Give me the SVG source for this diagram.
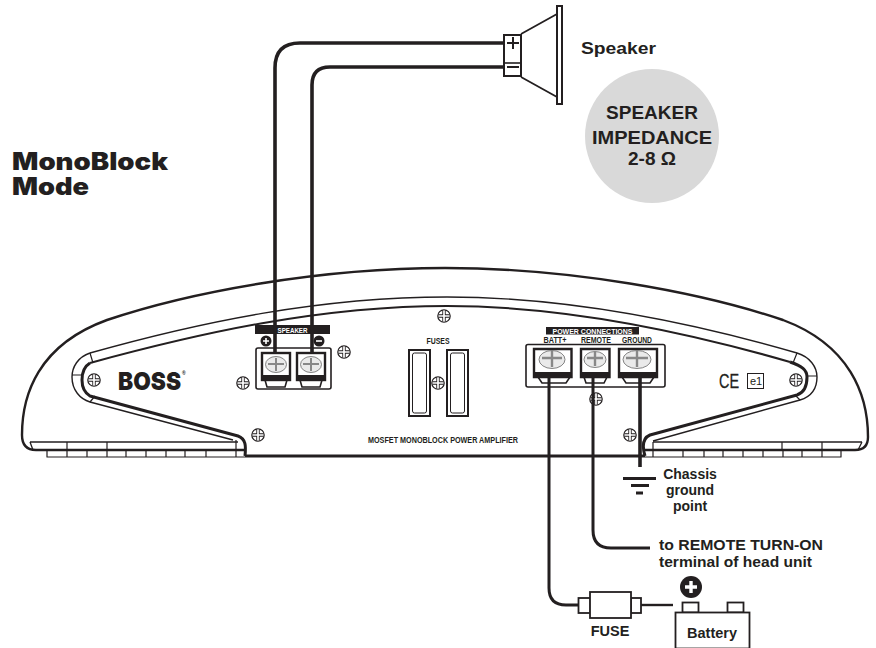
<svg xmlns="http://www.w3.org/2000/svg" xmlns:xlink="http://www.w3.org/1999/xlink" width="876" height="648" viewBox="0 0 876 648">
<style>
.l{fill:none;stroke:#231f20;stroke-linejoin:round;stroke-linecap:butt}
.w{fill:none;stroke:#231f20;stroke-width:3.6;stroke-linejoin:round}
.t{font-family:"Liberation Sans",Arial,sans-serif;font-weight:700;fill:#231f20}
.s{font-family:"Liberation Sans",Arial,sans-serif;font-weight:700;fill:#231f20;font-size:9px}
.b{fill:#231f20}
.box{fill:#fff;stroke:#231f20;stroke-width:1.6}
</style>
<defs>
<g id="screw"><circle r="6.2" fill="#fff" stroke="#231f20" stroke-width="1.2"/><path d="M-5.6,0H5.6M0,-5.6V5.6" stroke="#231f20" stroke-width="3.4"/><path d="M-5.4,0H5.4M0,-5.4V5.4" stroke="#fff" stroke-width="1.7"/></g>
</defs>

<g id="title"><text x="12" y="170" font-family="Inter,'Liberation Sans',sans-serif" font-weight="900" font-size="24" fill="#231f20" textLength="156" lengthAdjust="spacingAndGlyphs">MonoBlock</text>
<text x="12" y="195" font-family="Inter,'Liberation Sans',sans-serif" font-weight="900" font-size="24" fill="#231f20" textLength="77" lengthAdjust="spacingAndGlyphs">Mode</text></g>

<g id="speaker">
<path class="l" stroke-width="1.8" d="M521,34 L557,14 M521,77 L557,97"/>
<rect x="557" y="6" width="5" height="98" fill="#fff" stroke="#231f20" stroke-width="2"/>
<rect x="504" y="35" width="17" height="41" fill="#fff" stroke="#231f20" stroke-width="2"/>
<path class="l" stroke-width="1.6" d="M504,63H521"/>
<path class="l" stroke-width="2" d="M507,43H519M513,37V49"/>
<path class="l" stroke-width="2" d="M507,67H519"/>
<text class="t" x="581" y="54" font-size="17" textLength="75" lengthAdjust="spacingAndGlyphs">Speaker</text>
</g>

<g id="impedance">
<circle cx="652" cy="136" r="67" fill="#d9d9d9"/>
<text class="t" x="652" y="119" font-size="19" text-anchor="middle">SPEAKER</text>
<text class="t" x="652" y="144" font-size="19" text-anchor="middle" textLength="120" lengthAdjust="spacingAndGlyphs">IMPEDANCE</text>
<text class="t" x="652" y="165" font-size="19" text-anchor="middle">2-8 Ω</text>
</g>

<g id="amplifier">
<path d="M245,456 V450 H36 Q22,450 22,435 C22,395 38,345 107,320 C190,292 320,268 445,268 C570,268 700,292 783,320 C850,345 868,395 868,437 Q868,450 855,450 H645 V456 Z" fill="#fff"/>
<path class="l" stroke-width="2.4" d="M245,450 H36 Q22,450 22,435 C22,395 38,345 107,320 C190,292 320,268 445,268 C570,268 700,292 783,320 C850,345 868,395 868,437 Q868,450 855,450 H645"/>
<path class="l" stroke-width="1.3" d="M30,442 H238 M653,442 H862 M30,442 L33,450 M862,442 L858,450"/>
<path class="l" stroke-width="1.2" d="M47,450 V457 H245 M67,442 V450 M107,442 V450 M67,450 V457 M87,450 V457 M107,450 V457 M126,450 V457 M146,450 V457 M166,450 V457 M185,450 V457 M206,450 V457 M236,440 V457"/>
<path class="l" stroke-width="1.2" d="M841,450 V457 H645 M782,442 V450 M822,442 V450 M653,442 V457 M683,450 V457 M704,450 V457 M723,450 V457 M743,450 V457 M763,450 V457 M783,450 V457 M802,450 V457 M822,450 V457"/>
<path class="l" stroke-width="1.4" d="M90,353 C200,322 320,297 447,297 C570,297 690,322 797,353 C810,357 817,367 817,377 C817,390 810,397 800,400 L653,441"/>
<path class="l" stroke-width="1.4" d="M90,353 C78,357 72,367 72,377 C72,390 80,399 90,402 L233,440"/>
<path class="l" stroke-width="2" d="M90,363 C200,333 320,306 447,306 C570,306 690,333 790,362"/>
<path class="l" stroke-width="3" d="M90,363 C85,366 82,372 82,380 C82,388 85,393 90,396 L238,436 C246,439 246,446 245,456"/>
<path class="l" stroke-width="3" d="M790,362 C802,366 807,370 807,377 C807,388 803,393 797,395 L650,435 C643,438 642,446 645,456"/>
<path class="l" stroke-width="1.2" d="M90,353 L93,363 M72,375 H82 M90,402 L95,396 M797,353 L793,363 M807,376 H817 M800,400 L795,395"/>
<path class="l" stroke-width="3" d="M245,456 H645"/>
<use xlink:href="#screw" href="#screw" x="94" y="380"/><use xlink:href="#screw" href="#screw" x="243" y="383"/><use xlink:href="#screw" href="#screw" x="258" y="435"/><use xlink:href="#screw" href="#screw" x="344" y="352"/><use xlink:href="#screw" href="#screw" x="444" y="316"/><use xlink:href="#screw" href="#screw" x="438" y="383"/><use xlink:href="#screw" href="#screw" x="630" y="435"/><use xlink:href="#screw" href="#screw" x="796" y="380"/>
<text x="118" y="390" font-family="Inter,'Liberation Sans',sans-serif" font-weight="900" font-size="25" fill="#231f20" textLength="63" lengthAdjust="spacingAndGlyphs">BOSS</text>
<text class="t" x="182" y="375" font-size="5">®</text>
<text x="719" y="388" font-family="'Liberation Sans',sans-serif" font-size="20" fill="#231f20" stroke="#231f20" stroke-width=".3" textLength="20" lengthAdjust="spacingAndGlyphs">CE</text>
<rect x="747.500" y="373.500" width="16" height="15" fill="#fff" stroke="#231f20"/>
<text x="750" y="385" font-family="'Liberation Sans',sans-serif" font-size="11" fill="#231f20">e1</text>
<text class="s" x="368" y="443" textLength="150" lengthAdjust="spacingAndGlyphs">MOSFET MONOBLOCK POWER AMPLIFIER</text>
</g>

<g id="fuses">
<text class="s" x="438" y="344" text-anchor="middle" textLength="23" lengthAdjust="spacingAndGlyphs">FUSES</text>
<rect x="409" y="350" width="21" height="66" fill="#fff" stroke="#231f20" stroke-width="2"/><rect x="412.500" y="353" width="14" height="60" rx="2" fill="#fff" stroke="#231f20"/>
<rect x="447" y="350" width="21" height="66" fill="#fff" stroke="#231f20" stroke-width="2"/><rect x="450.500" y="353" width="14" height="60" rx="2" fill="#fff" stroke="#231f20"/>
</g>

<g id="speaker-terminals">
<rect x="256" y="348" width="75" height="41" rx="2" fill="#fff" stroke="#231f20" stroke-width="1.600"/>
<rect x="255" y="325" width="75" height="9" class="b"/>
<text x="292.500" y="332.500" font-family="'Liberation Sans',sans-serif" font-weight="700" font-size="8" fill="#fff" text-anchor="middle" textLength="30" lengthAdjust="spacingAndGlyphs">SPEAKER</text>
<circle cx="266" cy="341" r="5.500" class="b"/><path d="M263,341H269M266,338V344" stroke="#fff" stroke-width="1.600"/>
<circle cx="319" cy="341" r="5.500" class="b"/><path d="M316,341H322" stroke="#fff" stroke-width="1.600"/>
<path d="M265,380 L267,387 H285 L287,380 Z M300,380 L302,387 H320 L322,380 Z" class="box"/>
<rect x="262" y="353" width="28" height="27" fill="#fff" stroke="#231f20" stroke-width="2.400"/><rect x="262" y="375" width="28" height="6" class="b"/>
<rect x="297" y="353" width="28" height="27" fill="#fff" stroke="#231f20" stroke-width="2.400"/><rect x="297" y="375" width="28" height="6" class="b"/>
<ellipse cx="276" cy="364.500" rx="10.500" ry="8" fill="#eaeaea" stroke="#666" stroke-width=".8"/><path d="M268,364H284M276,358V371" stroke="#888" stroke-width="2"/>
<ellipse cx="311" cy="364.500" rx="10.500" ry="8" fill="#eaeaea" stroke="#666" stroke-width=".8"/><path d="M303,364H319M311,358V371" stroke="#888" stroke-width="2"/>
</g>

<g id="power-terminals">
<rect x="526" y="344.500" width="139" height="42.500" rx="2" fill="#fff" stroke="#231f20" stroke-width="1.600"/>
<rect x="546" y="327" width="93" height="7.500" class="b"/>
<text x="592.500" y="333.500" font-family="'Liberation Sans',sans-serif" font-weight="700" font-size="7.500" fill="#fff" text-anchor="middle" textLength="80" lengthAdjust="spacingAndGlyphs">POWER CONNECTIONS</text>
<text class="s" x="555" y="343" text-anchor="middle" textLength="23" lengthAdjust="spacingAndGlyphs">BATT+</text>
<text class="s" x="596" y="343" text-anchor="middle" textLength="30" lengthAdjust="spacingAndGlyphs">REMOTE</text>
<text class="s" x="637" y="343" text-anchor="middle" textLength="30" lengthAdjust="spacingAndGlyphs">GROUND</text>
<path d="M538,377 L542,383 H566 L570,377 Z M584,377 L586,383 H604 L607,377 Z M622,377 L626,383 H650 L654,377 Z" class="box"/>
<path d="M534,349 H571.500 V377 H534 Z M581,349 H609.500 V377 H581 Z M619,349 H657 V377 H619 Z" fill="#fff" stroke="#231f20" stroke-width="2.400"/>
<rect x="533" y="372" width="39" height="5" class="b"/><rect x="580" y="372" width="30" height="5" class="b"/><rect x="618" y="372" width="40" height="5" class="b"/>
<ellipse cx="552" cy="359.500" rx="13" ry="9" fill="#eaeaea" stroke="#666" stroke-width=".8"/><path d="M542,358H562M552,351V367" stroke="#888" stroke-width="2.400"/>
<ellipse cx="595" cy="359.500" rx="11" ry="8" fill="#eaeaea" stroke="#666" stroke-width=".8"/><path d="M587,358H603M595,352V366" stroke="#888" stroke-width="2.400"/>
<ellipse cx="637" cy="359.500" rx="14" ry="9" fill="#eaeaea" stroke="#666" stroke-width=".8"/><path d="M626,358H648M637,351V367" stroke="#888" stroke-width="2.400"/>
<use xlink:href="#screw" href="#screw" x="596" y="399"/>
</g>

<g id="connectors">
<path class="w" d="M504,43 H300 Q275,43 275,68 V352"/>
<path class="w" d="M504,67 H330 Q312,67 312,85 V352"/>
<path class="w" d="M549,377 V588 Q549,605 566,605 H578" style="stroke-width:3"/>
<path class="w" d="M593,377 V530 Q593,548 611,548 H650" style="stroke-width:3"/>
<path class="w" d="M640,374 V467"/>
<path class="w" d="M641,605 H673" style="stroke-width:2.400"/>
</g>

<g id="ground">
<path class="l" stroke-width="3" d="M623,478.500 H656 M631,485.500 H649 M636,493 H643"/>
<text class="t" x="690" y="479" font-size="14" text-anchor="middle">Chassis</text>
<text class="t" x="690" y="495" font-size="14" text-anchor="middle">ground</text>
<text class="t" x="690" y="511" font-size="14" text-anchor="middle">point</text>
</g>

<g id="remote-label">
<text class="t" x="659" y="550" font-size="14" textLength="164" lengthAdjust="spacingAndGlyphs">to REMOTE TURN-ON</text>
<text class="t" x="659" y="567" font-size="14" textLength="153" lengthAdjust="spacingAndGlyphs">terminal of head unit</text>
</g>

<g id="fuse">
<rect x="578.500" y="598" width="12" height="15" fill="#fff" stroke="#231f20" stroke-width="1.800"/>
<rect x="631" y="598" width="10" height="15" fill="#fff" stroke="#231f20" stroke-width="1.800"/>
<rect x="590" y="592" width="41" height="26" fill="#fff" stroke="#231f20" stroke-width="1.800"/>
<text class="t" x="610" y="636" font-size="14.500" text-anchor="middle">FUSE</text>
</g>

<g id="battery">
<rect x="682.500" y="602.500" width="16" height="10" fill="#fff" stroke="#231f20" stroke-width="1.800"/>
<rect x="727.500" y="602.500" width="16" height="10" fill="#fff" stroke="#231f20" stroke-width="1.800"/>
<rect x="675.500" y="612.500" width="74" height="36" fill="#fff" stroke="#231f20" stroke-width="1.800"/>
<circle cx="691" cy="587" r="11" class="b"/><path d="M685,587H697M691,581V593" stroke="#fff" stroke-width="3.400"/>
<text class="t" x="712" y="638" font-size="14.500" text-anchor="middle">Battery</text>
</g>
</svg>
